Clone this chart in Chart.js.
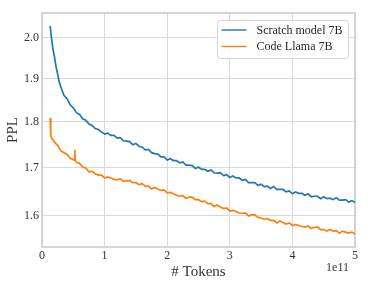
<!DOCTYPE html>
<html>
<head>
<meta charset="utf-8">
<script src="https://cdn.jsdelivr.net/npm/chart.js@4.4.0/dist/chart.umd.min.js"></script>
<style>
  html, body { margin: 0; padding: 0; background: #fff; }
  #wrap { width: 368px; height: 283px; }
</style>
</head>
<body>
<div id="wrap"><canvas id="pplChart"></canvas></div>
<script>
// tokens are in units of 1e11
var scratchTokens = [0.13,0.15,0.175,0.20,0.225,0.25,0.275,0.30,0.35,0.40,0.45,0.50,0.55,0.60,0.65,0.70,0.75,0.80,0.85,0.90,0.95,
  1.00,1.05,1.10,1.15,1.20,1.25,1.30,1.35,1.40,1.45,1.50,1.55,1.60,1.65,1.70,1.75,1.80,1.85,1.90,1.95,
  2.00,2.05,2.10,2.15,2.20,2.25,2.30,2.35,2.40,2.45,2.50,2.55,2.60,2.65,2.70,2.75,2.80,2.85,2.90,2.95,
  3.00,3.05,3.10,3.15,3.20,3.25,3.30,3.35,3.40,3.45,3.50,3.55,3.60,3.65,3.70,3.75,3.80,3.85,3.90,3.95,
  4.00,4.05,4.10,4.15,4.20,4.25,4.30,4.35,4.40,4.45,4.50,4.55,4.60,4.65,4.70,4.75,4.80,4.85,4.90,4.95,5.00];
var scratchPpl = [2.030,2.001,1.972,1.952,1.928,1.911,1.892,1.881,1.861,1.853,1.839,1.832,1.821,1.817,1.807,1.804,1.795,1.792,1.785,1.783,1.777,
  1.773,1.775,1.770,1.770,1.764,1.765,1.758,1.757,1.756,1.749,1.752,1.746,1.744,1.738,1.739,1.732,1.730,1.729,1.723,1.723,
  1.716,1.719,1.715,1.715,1.710,1.712,1.705,1.705,1.704,1.698,1.701,1.696,1.696,1.692,1.695,1.689,1.688,1.689,1.683,1.685,
  1.679,1.682,1.678,1.678,1.673,1.675,1.668,1.668,1.668,1.662,1.665,1.660,1.661,1.656,1.660,1.654,1.654,1.654,1.649,1.651,
  1.645,1.649,1.646,1.646,1.642,1.645,1.639,1.640,1.640,1.635,1.639,1.635,1.636,1.633,1.637,1.632,1.632,1.633,1.628,1.631,1.627];

var llamaTokens = [0.13,0.14,0.15,0.20,0.25,0.30,0.35,0.40,0.45,0.50,0.52,0.525,0.53,0.55,0.60,0.65,0.70,0.75,0.80,0.85,0.90,0.95,
  1.00,1.05,1.10,1.15,1.20,1.25,1.30,1.35,1.40,1.45,1.50,1.55,1.60,1.65,1.70,1.75,1.80,1.85,1.90,1.95,
  2.00,2.05,2.10,2.15,2.20,2.25,2.30,2.35,2.40,2.45,2.50,2.55,2.60,2.65,2.70,2.75,2.80,2.85,2.90,2.95,
  3.00,3.05,3.10,3.15,3.20,3.25,3.30,3.35,3.40,3.45,3.50,3.55,3.60,3.65,3.70,3.75,3.80,3.85,3.90,3.95,
  4.00,4.05,4.10,4.15,4.20,4.25,4.30,4.35,4.40,4.45,4.50,4.55,4.60,4.65,4.70,4.75,4.80,4.85,4.90,4.95,5.00];
var llamaPpl = [1.809,1.770,1.765,1.755,1.748,1.736,1.732,1.728,1.720,1.717,1.716,1.738,1.715,1.711,1.709,1.701,1.699,1.691,1.692,1.687,1.684,1.684,
  1.678,1.680,1.678,1.675,1.674,1.676,1.671,1.672,1.673,1.668,1.668,1.664,1.666,1.661,1.661,1.655,1.658,1.655,1.652,1.653,
  1.647,1.648,1.645,1.642,1.640,1.641,1.636,1.638,1.638,1.633,1.633,1.629,1.630,1.625,1.625,1.619,1.622,1.618,1.615,1.616,
  1.610,1.611,1.609,1.606,1.605,1.606,1.600,1.602,1.602,1.597,1.596,1.593,1.595,1.591,1.591,1.586,1.590,1.587,1.584,1.586,
  1.581,1.583,1.581,1.579,1.578,1.580,1.575,1.577,1.578,1.573,1.573,1.570,1.573,1.570,1.571,1.566,1.570,1.568,1.566,1.568,1.564];

var seriesNames = ['Scratch model 7B', 'Code Llama 7B'];
var seriesColors = ['#1f77b4', '#ff7f0e'];
var xTickValues = [0, 1, 2, 3, 4, 5];
var yTickValues = [1.6, 1.7, 1.8, 1.9, 2.0];

function toPoints(xs, ys) {
  return xs.map(function (x, i) { return { x: x, y: ys[i] }; });
}

Chart.defaults.font.family = "'Liberation Serif', 'DejaVu Serif', serif";
Chart.defaults.color = '#333333';

// box around the plot, like matplotlib spines
var frameBox = {
  id: 'frameBox',
  beforeDatasetsDraw: function (chart) {
    var a = chart.chartArea, ctx = chart.ctx;
    ctx.save();
    ctx.strokeStyle = '#cccccc';
    ctx.lineWidth = 1.6;
    ctx.strokeRect(a.left, a.top, a.right - a.left, a.bottom - a.top);
    ctx.restore();
  }
};

var boxLegend = {
  id: 'boxLegend',
  afterDraw: function (chart) {
    var a = chart.chartArea, ctx = chart.ctx;
    var w = 131, h = 38;
    var x0 = a.right - 7 - w, y0 = a.top + 7;
    ctx.save();
    ctx.beginPath();
    ctx.roundRect(x0 + 0.5, y0 + 0.5, w, h, 3);
    ctx.fillStyle = 'rgba(255,255,255,0.85)';
    ctx.fill();
    ctx.strokeStyle = '#d4d4d4';
    ctx.lineWidth = 1;
    ctx.stroke();
    ctx.font = "12px 'Liberation Serif', serif";
    ctx.textBaseline = 'middle';
    chart.data.datasets.forEach(function (ds, i) {
      var yy = y0 + 10 + i * 16.5;
      ctx.strokeStyle = ds.borderColor;
      ctx.lineWidth = 1.4;
      ctx.beginPath();
      ctx.moveTo(x0 + 4.5, yy);
      ctx.lineTo(x0 + 29.5, yy);
      ctx.stroke();
      ctx.fillStyle = '#262626';
      ctx.fillText(ds.label, x0 + 39.5, yy + 0.5);
    });
    ctx.restore();
  }
};

var offsetText = {
  id: 'offsetText',
  afterDraw: function (chart) {
    var a = chart.chartArea, ctx = chart.ctx;
    ctx.save();
    ctx.font = "12px 'Liberation Serif', serif";
    ctx.fillStyle = '#333333';
    ctx.textAlign = 'right';
    ctx.textBaseline = 'middle';
    ctx.fillText('1e11', a.right - 6, a.bottom + 21);
    ctx.restore();
  }
};

new Chart(document.getElementById('pplChart'), {
  type: 'line',
  data: {
    datasets: [
      { label: seriesNames[0], data: toPoints(scratchTokens, scratchPpl), borderColor: seriesColors[0], backgroundColor: seriesColors[0] },
      { label: seriesNames[1], data: toPoints(llamaTokens, llamaPpl), borderColor: seriesColors[1], backgroundColor: seriesColors[1] }
    ]
  },
  options: {
    responsive: true,
    maintainAspectRatio: false,
    animation: false,
    layout: { padding: { top: 13, right: 13, left: 0, bottom: 0 } },
    elements: {
      point: { radius: 0 },
      line: { borderWidth: 1.7, tension: 0 }
    },
    plugins: {
      legend: { display: false },
      tooltip: { enabled: false }
    },
    scales: {
      x: {
        type: 'linear',
        min: 0,
        max: 5,
        afterBuildTicks: function (scale) {
          scale.ticks = xTickValues.map(function (v) { return { value: v }; });
        },
        afterFit: function (scale) { scale.height = 36; },
        ticks: {
          padding: 2,
          font: { size: 12 },
          callback: function (v) { return String(v); }
        },
        grid: { color: '#d9d9d9', lineWidth: 1, drawTicks: false },
        border: { display: false },
        title: { display: true, text: '# Tokens', font: { size: 15 }, padding: { top: 0, bottom: 2 } }
      },
      y: {
        type: 'logarithmic',
        min: 1.539,
        max: 2.063,
        afterBuildTicks: function (scale) {
          scale.ticks = yTickValues.map(function (v) { return { value: v }; });
        },
        afterFit: function (scale) { scale.width = 42; },
        ticks: {
          padding: 3,
          autoSkip: false,
          font: { size: 12 },
          callback: function (v) { return Number(v).toFixed(1); }
        },
        grid: { color: '#d9d9d9', lineWidth: 1, drawTicks: false },
        border: { display: false },
        title: { display: true, text: 'PPL', font: { size: 15 }, padding: { top: 4, bottom: 4 } }
      }
    }
  },
  plugins: [frameBox, boxLegend, offsetText]
});
</script>
</body>
</html>
